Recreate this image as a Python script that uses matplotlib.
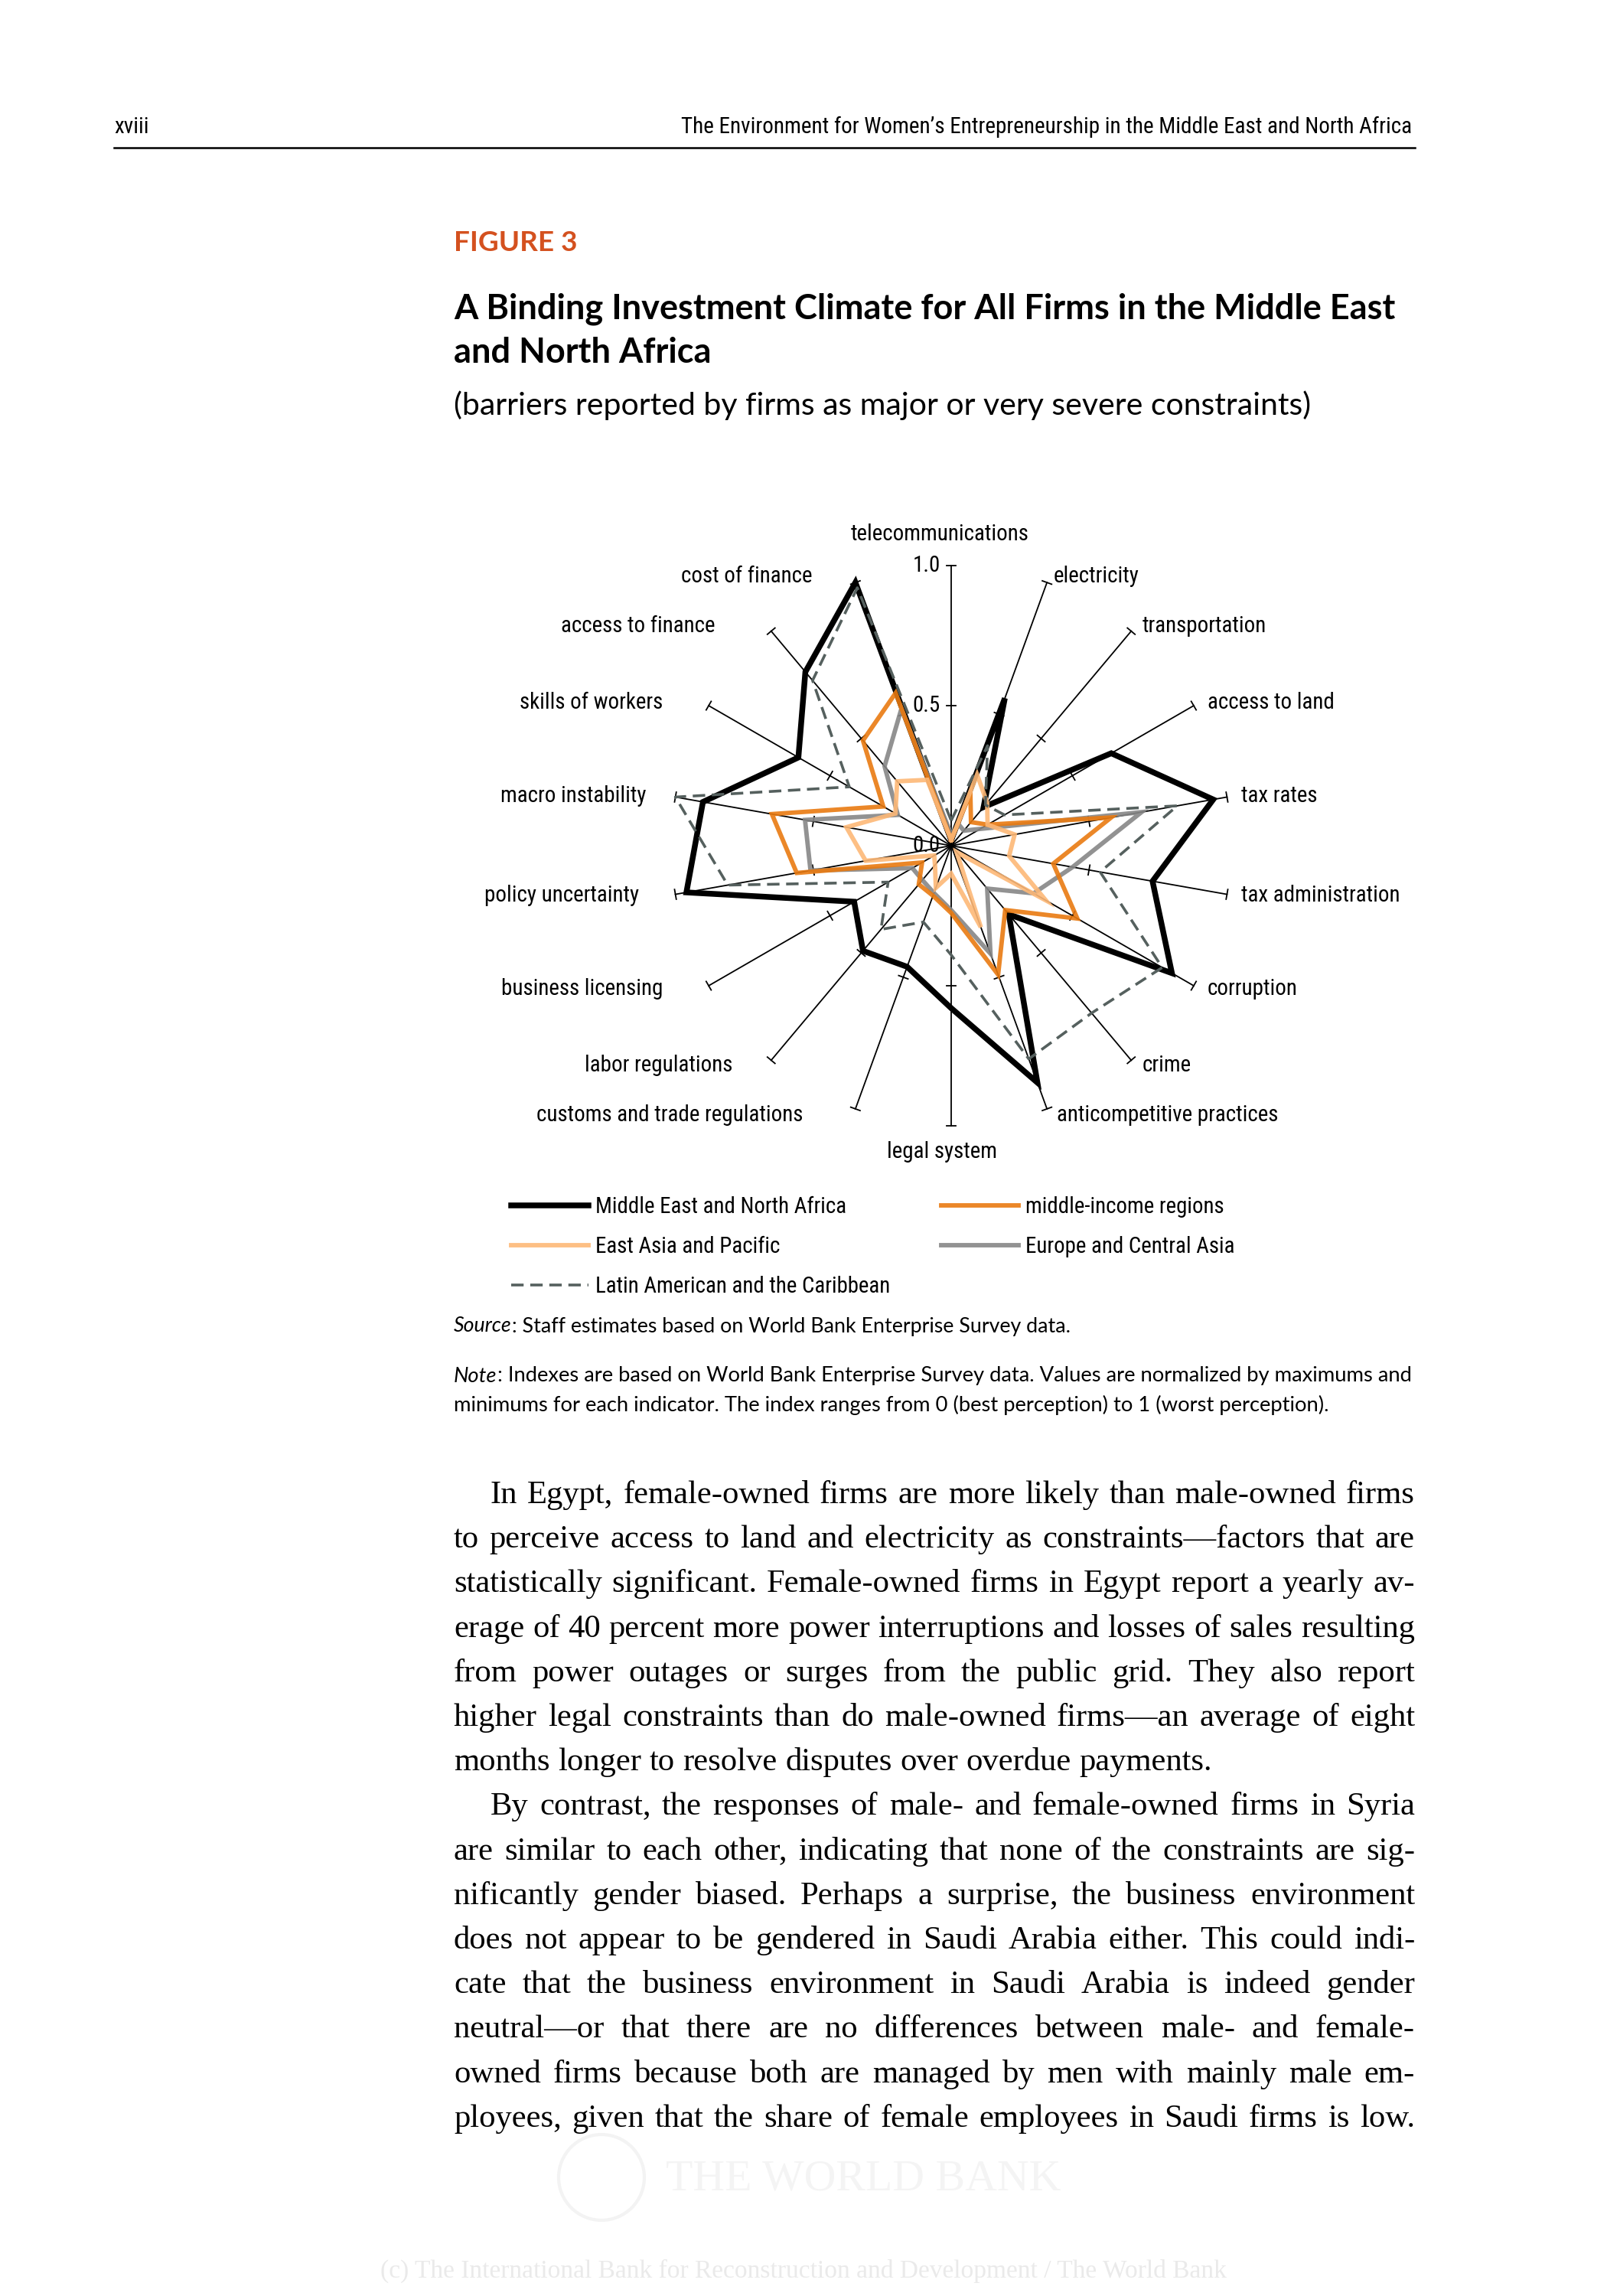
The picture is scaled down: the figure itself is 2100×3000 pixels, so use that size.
import numpy as np
import matplotlib
matplotlib.use('Agg')
import matplotlib.pyplot as plt
from matplotlib import font_manager
from matplotlib.lines import Line2D
from matplotlib.patches import Circle

# ---- chart data (index 0..1) ----
categories = ['telecommunications', 'electricity', 'transportation', 'access to land',
              'tax rates', 'tax administration', 'corruption', 'crime',
              'anticompetitive practices', 'legal system', 'customs and trade regulations',
              'labor regulations', 'business licensing', 'policy uncertainty',
              'macro instability', 'skills of workers', 'access to finance', 'cost of finance']

mena = [0.02, 0.56, 0.18, 0.66, 0.95, 0.73, 0.91, 0.32, 0.90, 0.58,
        0.46, 0.49, 0.40, 0.96, 0.90, 0.63, 0.81, 1.00]
middle_income = [0.02, 0.20, 0.11, 0.15, 0.58, 0.37, 0.52, 0.30, 0.49, 0.24,
                 0.19, 0.18, 0.12, 0.56, 0.65, 0.28, 0.49, 0.58]
east_asia = [0.02, 0.27, 0.20, 0.15, 0.23, 0.21, 0.39, 0.03, 0.31, 0.10,
             0.16, 0.09, 0.07, 0.31, 0.38, 0.23, 0.30, 0.25]
europe = [0.04, 0.08, 0.07, 0.12, 0.69, 0.44, 0.34, 0.20, 0.41, 0.23,
          0.18, 0.16, 0.16, 0.51, 0.53, 0.22, 0.37, 0.52]
latin = [0.09, 0.38, 0.19, 0.22, 0.82, 0.54, 0.87, 0.78, 0.81, 0.39,
         0.29, 0.39, 0.26, 0.81, 1.00, 0.42, 0.77, 0.98]

radial_ticks = [0.0, 0.5, 1.0]
radial_labels = ['0.0', '0.5', '1.0']

body_lines = [
    "In Egypt, female-owned firms are more likely than male-owned firms",
    "to perceive access to land and electricity as constraints\u2014factors that are",
    "statistically significant. Female-owned firms in Egypt report a yearly av-",
    "erage of 40 percent more power interruptions and losses of sales resulting",
    "from power outages or surges from the public grid. They also report",
    "higher legal constraints than do male-owned firms\u2014an average of eight",
    "months longer to resolve disputes over overdue payments.",
    "By contrast, the responses of male- and female-owned firms in Syria",
    "are similar to each other, indicating that none of the constraints are sig-",
    "nificantly gender biased. Perhaps a surprise, the business environment",
    "does not appear to be gendered in Saudi Arabia either. This could indi-",
    "cate that the business environment in Saudi Arabia is indeed gender",
    "neutral\u2014or that there are no differences between male- and female-",
    "owned firms because both are managed by men with mainly male em-",
    "ployees, given that the share of female employees in Saudi firms is low.",
]
indent_lines = {0, 7}
ragged_lines = {6}

# ---- fonts ----
names = {f.name for f in font_manager.fontManager.ttflist}


def pick(*cands, default='DejaVu Sans'):
    for c in cands:
        if c in names:
            return c
    return default


COND = pick('Liberation Sans Narrow', 'Roboto Condensed', 'Open Sans Condensed')
SANS = pick('Lato', 'Open Sans', 'Noto Sans')
SERIF = pick('Liberation Serif', 'DejaVu Serif', default='DejaVu Serif')
cond_kw = {'family': COND}
if COND == 'DejaVu Sans':
    cond_kw['fontstretch'] = 'condensed'

W, H = 2100, 3000
fig = plt.figure(figsize=(W / 100, H / 100), dpi=100)
page = fig.add_axes([0, 0, 1, 1])
page.set_xlim(0, W)
page.set_ylim(H, 0)
page.axis('off')
renderer = fig.canvas.get_renderer()


def width_of(t):
    return t.get_window_extent(renderer).width


def measure(s, fs, **kw):
    t = page.text(W / 2, H / 2, s, fontsize=fs, **kw)
    w = width_of(t)
    t.remove()
    return w


def fit(x, y, s, width, ha='left', va='center', **kw):
    fs = 20 * width / measure(s, 20, **kw)
    return page.text(x, y, s, fontsize=fs, ha=ha, va=va, **kw)


def runs_width(runs, fs, **kw):
    return sum(measure(s, fs, fontstyle=st, **kw) for s, st in runs)


def runs_line(x, y, runs, fs, va='center', **kw):
    cx = x
    for s, style in runs:
        t = page.text(cx, y, s, fontsize=fs, fontstyle=style, va=va, **kw)
        cx += width_of(t)


# ---- running header ----
hdr = fit(1845, 166, 'The Environment for Women\u2019s Entrepreneurship in the Middle East and North Africa',
          951, ha='right', **cond_kw)
page.text(149, 166, 'xviii', fontsize=hdr.get_fontsize(), va='center', **cond_kw)
page.plot([149, 1849], [193, 193], color='black', lw=1.8)

# ---- figure caption block ----
fit(593, 318, 'FIGURE 3', 161, color='#D4511F', family=SANS, fontweight='bold')
t1 = fit(593, 404, 'A Binding Investment Climate for All Firms in the Middle East', 1230,
         family=SANS, fontweight='bold')
page.text(593, 461, 'and North Africa', fontsize=t1.get_fontsize(), va='center',
          family=SANS, fontweight='bold')
fit(593, 530, '(barriers reported by firms as major or very severe constraints)', 1123, family=SANS)

# ---- radar chart ----
cx, cy, R = 1243, 1105, 366
ax = fig.add_axes([(cx - R) / W, 1 - (cy + R) / H, 2 * R / W, 2 * R / H], projection='polar')
ax.set_theta_zero_location('N')
ax.set_theta_direction(-1)
ax.set_ylim(0, 1)
ax.set_axis_off()

n = len(categories)
theta = np.deg2rad(np.arange(n) * 360.0 / n)
theta_c = np.append(theta, theta[0])

for th in theta:
    ax.plot([th, th], [0, 1], color='black', lw=1.3, clip_on=False, zorder=1)
    for r in radial_ticks[1:]:
        d = 6.5 / (R * r)
        ax.plot([th - d, th + d], [r, r], color='black', lw=1.3, clip_on=False, zorder=1)

lab_fs = 20 * 233 / measure('telecommunications', 20, **cond_kw)

for r, s in zip(radial_ticks, radial_labels):
    ax.annotate(s, xy=(0, r), xytext=(-14, 0), textcoords='offset pixels', ha='right',
                va='center', fontsize=lab_fs, annotation_clip=False, zorder=0, **cond_kw)

label_gap = [0, 8, 14, 18, 19, 19, 18, 14, 13, 0, 68, 50, 60, 47, 38, 60, 73, 56]
for k, (th, name) in enumerate(zip(theta, categories)):
    deg = np.rad2deg(th)
    if k == 0:
        off, ha = (-15, 41), 'center'
    elif k == n // 2:
        off, ha = (-12, -34), 'center'
    elif deg < 180:
        off, ha = (label_gap[k], 9 * np.cos(th)), 'left'
    else:
        off, ha = (-label_gap[k], 9 * np.cos(th)), 'right'
    ax.annotate(name, xy=(th, 1.0), xytext=off, textcoords='offset pixels', ha=ha,
                va='center', fontsize=lab_fs, annotation_clip=False, **cond_kw)

series = [
    ('Middle East and North Africa', mena,
     dict(color='black', lw=5.4, zorder=3)),
    ('middle-income regions', middle_income,
     dict(color='#E97A10', lw=4.2, alpha=0.9, zorder=5)),
    ('East Asia and Pacific', east_asia,
     dict(color='#FDB877', lw=4.2, alpha=0.9, zorder=6)),
    ('Europe and Central Asia', europe,
     dict(color='#868686', lw=4.2, alpha=0.9, zorder=4)),
    ('Latin American and the Caribbean', latin,
     dict(color='#55605E', lw=2.6, linestyle=(0, (4.5, 2.4)), zorder=7)),
]

handles = []
for label, vals, style in series:
    ax.plot(theta_c, np.append(vals, vals[0]), clip_on=False, solid_joinstyle='miter',
            **style)
    hs = {k: v for k, v in style.items() if k != 'zorder'}
    handles.append(Line2D([], [], label=label, **hs))

# ---- legend (two fixed columns) ----
leg_fs = 20 * 327 / measure('Middle East and North Africa', 20, **cond_kw)
leg_px = leg_fs * 100 / 72
leg_kw = dict(frameon=False, prop=dict(size=leg_fs, **cond_kw), loc='upper left',
              handlelength=72.7 / leg_fs, handletextpad=6.5 / leg_fs,
              labelspacing=0.5 + 9.5 / leg_px,
              borderpad=0, borderaxespad=0, bbox_transform=page.transData)
leg1 = page.legend(handles=[handles[0], handles[2], handles[4]], bbox_to_anchor=(668, 1563), **leg_kw)
page.add_artist(leg1)
page.legend(handles=[handles[1], handles[3]], bbox_to_anchor=(1230, 1563), **leg_kw)

# ---- source and note ----
src_runs = [('Source', 'italic'), (': Staff estimates based on World Bank Enterprise Survey data.', 'normal')]
src_fs = 20 * 805 / runs_width(src_runs, 20, family=SANS)
runs_line(593, 1733, src_runs, src_fs, family=SANS)

note1 = [('Note', 'italic'),
         (': Indexes are based on World Bank Enterprise Survey data. Values are normalized by maximums and',
          'normal')]
note_fs = 20 * 1256 / runs_width(note1, 20, family=SANS)
runs_line(593, 1798, note1, note_fs, family=SANS)
page.text(593, 1836, 'minimums for each indicator. The index ranges from 0 (best perception) to 1 (worst perception).',
          fontsize=note_fs, va='center', family=SANS)

# ---- body text, justified ----
x_left, x_right, indent = 593, 1849, 48
base = 30
ratios = []
for i, line in enumerate(body_lines):
    if i in ragged_lines:
        continue
    avail = x_right - x_left - (indent if i in indent_lines else 0)
    ratios.append(avail / measure(line, base, family=SERIF))
body_fs = base * min(ratios)
space_w = measure('a b', body_fs, family=SERIF) - measure('ab', body_fs, family=SERIF)

for i, line in enumerate(body_lines):
    y = 1964 + 58.2 * i
    x0 = x_left + (indent if i in indent_lines else 0)
    words = line.split()
    ws = [measure(w, body_fs, family=SERIF) for w in words]
    if i in ragged_lines:
        gap = space_w
    else:
        gap = (x_right - x0 - sum(ws)) / (len(words) - 1)
    xx = x0
    for w, ww in zip(words, ws):
        page.text(xx, y, w, fontsize=body_fs, va='baseline', family=SERIF)
        xx += ww + gap

# ---- faint watermark ----
page.add_patch(Circle((786, 2845), 56, fill=False, edgecolor='#F3F3F3', lw=3))
fit(870, 2848, 'THE WORLD BANK', 517, color='#F4F4F4', family=SERIF)
fit(497, 2967, '(c) The International Bank for Reconstruction and Development / The World Bank',
    1106, color='#EAEAEA', family=SERIF)

fig.savefig('out.png', dpi=100, facecolor='white')
